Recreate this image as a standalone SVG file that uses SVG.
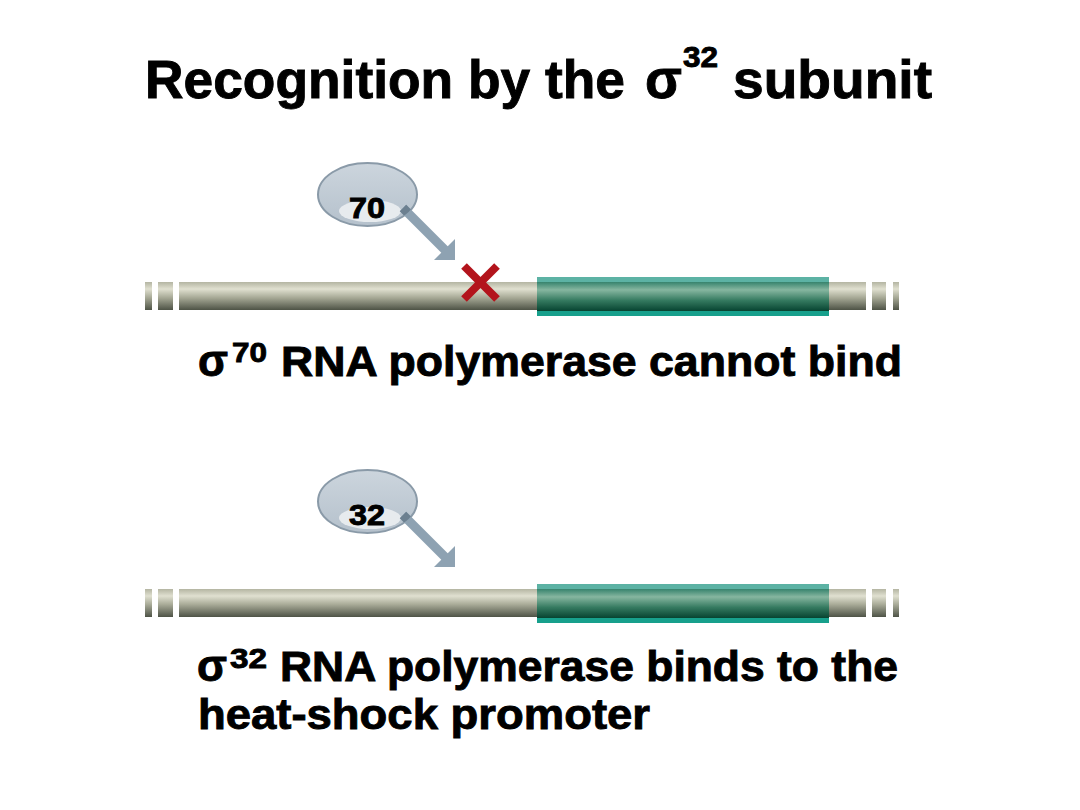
<svg xmlns="http://www.w3.org/2000/svg" width="1080" height="810" viewBox="0 0 1080 810">
<style>
  text { font-family: "Liberation Sans", Arial, sans-serif; font-weight: bold; fill: #000; stroke: #000; stroke-width: 0.9; }
  .arrow { fill: #8ea2b2; }
  .shaft { stroke: #8ea2b2; stroke-width: 9; }
  .shaftdark { stroke: #6c8090; stroke-width: 9; }
  .blob { fill: url(#blobg); stroke: #8a9aa8; stroke-width: 2; }
  .hl { fill: #e7ebee; }
  .xmark { stroke: #b3141c; stroke-width: 8; }
</style>
<defs>
  <linearGradient id="gray" x1="0" y1="0" x2="0" y2="1">
    <stop offset="0" stop-color="#b4b5a2"/>
    <stop offset="0.25" stop-color="#e0e0d0"/>
    <stop offset="0.55" stop-color="#a9ab98"/>
    <stop offset="1" stop-color="#4e5346"/>
  </linearGradient>
  <linearGradient id="teal" x1="0" y1="0" x2="0" y2="1">
    <stop offset="0" stop-color="#5cb2a4"/>
    <stop offset="0.13" stop-color="#5cb2a4"/>
    <stop offset="0.14" stop-color="#3b8670"/>
    <stop offset="0.33" stop-color="#86b6a0"/>
    <stop offset="0.6" stop-color="#357a60"/>
    <stop offset="0.86" stop-color="#094633"/>
    <stop offset="0.87" stop-color="#17a08c"/>
    <stop offset="1" stop-color="#17a08c"/>
  </linearGradient>
  <linearGradient id="blobg" x1="0" y1="0" x2="0" y2="1">
    <stop offset="0" stop-color="#ccd5dd"/>
    <stop offset="1" stop-color="#b5c1cc"/>
  </linearGradient>
  <clipPath id="clip70"><ellipse cx="367.5" cy="194.5" rx="49.5" ry="31.5"/></clipPath>
  <clipPath id="clip32"><ellipse cx="367.5" cy="501.5" rx="49.5" ry="31.5"/></clipPath>
</defs>

<g id="title">
  <text x="145" y="98" font-size="53" textLength="480" lengthAdjust="spacingAndGlyphs">Recognition by the</text>
  <text x="645" y="98" font-size="56" textLength="37" lengthAdjust="spacingAndGlyphs">σ</text>
  <text x="683" y="67" font-size="29" textLength="35" lengthAdjust="spacingAndGlyphs">32</text>
  <text x="733" y="98" font-size="53" textLength="199" lengthAdjust="spacingAndGlyphs">subunit</text>
</g>

<g id="dna-top">
  <rect x="145" y="282" width="7" height="28" fill="url(#gray)"/>
  <rect x="158" y="282" width="15" height="28" fill="url(#gray)"/>
  <rect x="179" y="282" width="687" height="28" fill="url(#gray)"/>
  <rect x="872" y="282" width="14" height="28" fill="url(#gray)"/>
  <rect x="893" y="282" width="6" height="28" fill="url(#gray)"/>
  <rect x="537" y="277" width="292" height="39" fill="url(#teal)"/>
</g>

<g id="sigma70">
  <ellipse class="blob" cx="367.5" cy="194.5" rx="49.5" ry="31.5"/>
  <ellipse class="hl" cx="370" cy="211" rx="31" ry="11"/>
  <text x="367" y="218" font-size="29" text-anchor="middle" textLength="36" lengthAdjust="spacingAndGlyphs">70</text>
</g>

<g id="x-mark">
  <line class="xmark" x1="464" y1="266" x2="497" y2="299"/>
  <line class="xmark" x1="497" y1="266" x2="464" y2="299"/>
</g>

<g id="caption-top">
  <text x="198" y="376" font-size="44" textLength="30" lengthAdjust="spacingAndGlyphs">σ</text>
  <text x="232" y="362" font-size="28" textLength="35" lengthAdjust="spacingAndGlyphs">70</text>
  <text x="281" y="376" font-size="42" textLength="621" lengthAdjust="spacingAndGlyphs">RNA polymerase cannot bind</text>
</g>

<g id="dna-bottom">
  <rect x="145" y="589" width="7" height="28" fill="url(#gray)"/>
  <rect x="158" y="589" width="15" height="28" fill="url(#gray)"/>
  <rect x="179" y="589" width="687" height="28" fill="url(#gray)"/>
  <rect x="872" y="589" width="14" height="28" fill="url(#gray)"/>
  <rect x="893" y="589" width="6" height="28" fill="url(#gray)"/>
  <rect x="537" y="584" width="292" height="39" fill="url(#teal)"/>
</g>

<g id="sigma32">
  <ellipse class="blob" cx="367.5" cy="501.5" rx="49.5" ry="31.5"/>
  <ellipse class="hl" cx="370" cy="518" rx="31" ry="11"/>
  <text x="367" y="525" font-size="29" text-anchor="middle" textLength="36" lengthAdjust="spacingAndGlyphs">32</text>
</g>

<g id="caption-bottom">
  <text x="197" y="681" font-size="44" textLength="30" lengthAdjust="spacingAndGlyphs">σ</text>
  <text x="230" y="668" font-size="28" textLength="37" lengthAdjust="spacingAndGlyphs">32</text>
  <text x="280" y="681" font-size="42" textLength="618" lengthAdjust="spacingAndGlyphs">RNA polymerase binds to the</text>
  <text x="198" y="729" font-size="42" textLength="452" lengthAdjust="spacingAndGlyphs">heat-shock promoter</text>
</g>

<g id="connectors">
  <line class="shaft" x1="403" y1="208" x2="446" y2="251"/>
  <line class="shaftdark" x1="403" y1="208" x2="446" y2="251" clip-path="url(#clip70)"/>
  <polygon class="arrow" points="455,260 434,260 455,239"/>
  <line class="shaft" x1="403" y1="515" x2="446" y2="558"/>
  <line class="shaftdark" x1="403" y1="515" x2="446" y2="558" clip-path="url(#clip32)"/>
  <polygon class="arrow" points="455,567 434,567 455,546"/>
</g>
</svg>
